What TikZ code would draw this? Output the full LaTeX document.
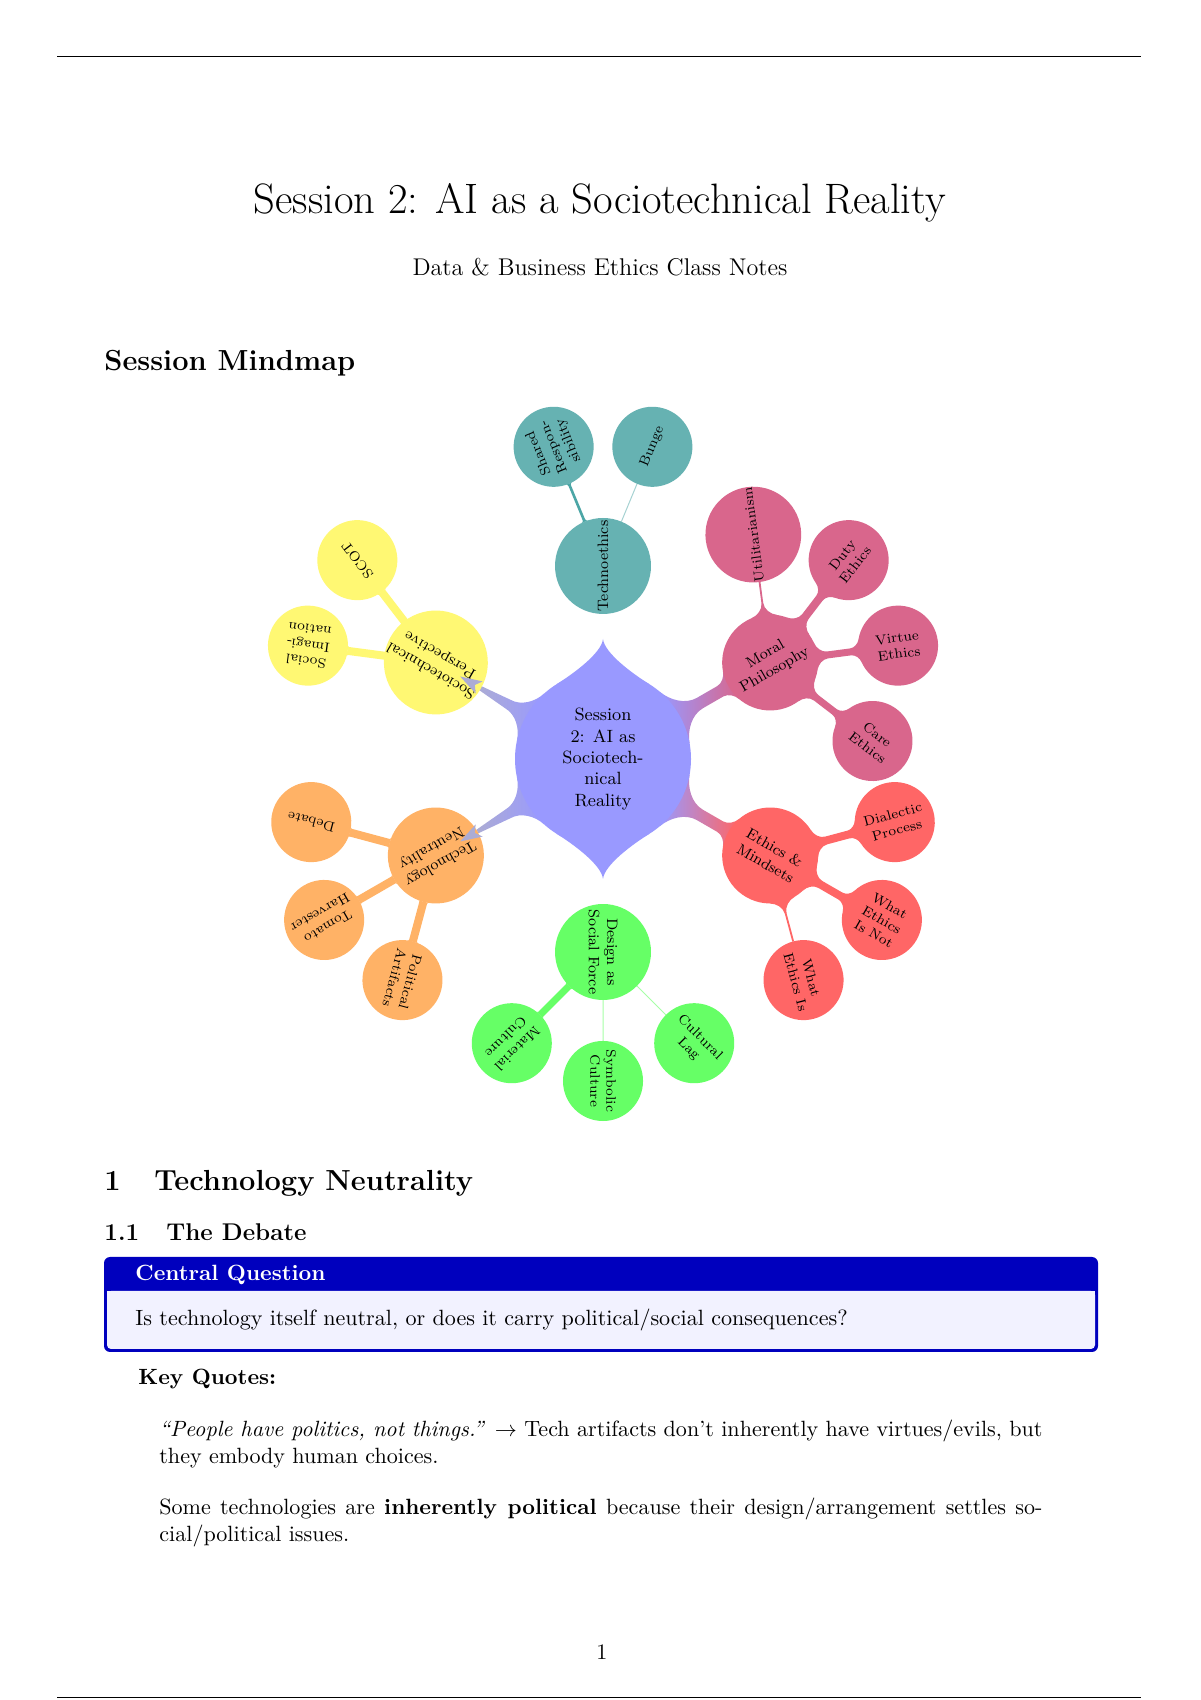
\documentclass[tikz,border=0pt]{standalone}
\pgfdeclarelayer{bg}
\pgfsetlayers{bg,main}
\definecolor{framecol}{RGB}{0,0,190}
\definecolor{boxback}{RGB}{242,242,255}
\definecolor{wedgecol}{RGB}{172,172,212}
\newcommand\ntext{\fontsize{10.95}{13.6}\selectfont}
\def\cbscale{1}
% connection bar between two circles: node, angle, distance, rA, rB, half width, flareA, flareB, style
\newcommand{\cbar}[9]{%
  \begin{scope}[shift={(#1)},rotate=#2]
    \pgfmathsetmacro\wb{\cbscale*#6}
    \pgfmathsetmacro\phA{asin(min(0.95,(#6+#7)/#4))}
    \pgfmathsetmacro\phB{asin(min(0.95,(\wb+#8)/#5))}
    \pgfmathsetmacro\xa{#4*cos(\phA)}
    \pgfmathsetmacro\ya{#4*sin(\phA)}
    \pgfmathsetmacro\xb{#3-#5*cos(\phB)}
    \pgfmathsetmacro\yb{#5*sin(\phB)}
    \pgfmathsetmacro\qa{sqrt(#4*#4-#6*#6)+#7}
    \pgfmathsetmacro\qb{#3-sqrt(#5*#5-\wb*\wb)-#8}
    \pgfmathsetmacro\cax{\xa+0.55*#7*sin(\phA)}
    \pgfmathsetmacro\cay{\ya-0.55*#7*cos(\phA)}
    \pgfmathsetmacro\cbx{\xb-0.55*#8*sin(\phB)}
    \pgfmathsetmacro\cby{\yb-0.55*#8*cos(\phB)}
    \pgfmathsetmacro\qac{\qa-0.55*#7}
    \pgfmathsetmacro\qbc{\qb+0.55*#8}
    \path[#9] (\xa,\ya) .. controls (\cax,\cay) and (\qac,#6) .. (\qa,#6)
      -- (\qb,\wb) .. controls (\qbc,\wb) and (\cbx,\cby) .. (\xb,\yb)
      -- (\xb,-\yb) .. controls (\cbx,-\cby) and (\qbc,-\wb) .. (\qb,-\wb)
      -- (\qa,-#6) .. controls (\qac,-#6) and (\cax,-\cay) .. (\xa,-\ya) -- cycle;
  \end{scope}}
% spike: node, angle, r, length, phi, style
\newcommand{\spike}[6]{%
  \begin{scope}[shift={(#1)},rotate=#2]
    \pgfmathsetmacro\sx{#3*cos(#5)}
    \pgfmathsetmacro\sy{#3*sin(#5)}
    \pgfmathsetmacro\scx{\sx+0.6*#4*sin(#5)}
    \pgfmathsetmacro\scy{\sy-0.6*#4*cos(#5)}
    \pgfmathsetmacro\tip{#3+#4}
    \pgfmathsetmacro\tc{#3+0.55*#4}
    \path[#6] (\sx,\sy) .. controls (\scx,\scy) and (\tc,1.5) .. (\tip,0)
      .. controls (\tc,-1.5) and (\scx,-\scy) .. (\sx,-\sy) -- cycle;
  \end{scope}}
\tikzset{
  rootc/.style={circle, fill=blue!40, minimum size=87.3pt, inner sep=0pt, align=center, font=\fontsize{8.8}{10.6}\selectfont},
  lvlone/.style={circle, minimum size=47.6pt, inner sep=0pt, align=center, font=\fontsize{7.5}{9}\selectfont},
  lvltwo/.style={circle, minimum size=39.7pt, inner sep=0pt, align=center, font=\fontsize{6.8}{8}\selectfont},
  txt/.style={inner sep=0pt, anchor=base west},
}
\begin{document}
\begin{tikzpicture}[x=0.496pt,y=0.496pt]
\useasboundingbox (0,0) rectangle (1200,1700);
% header and footer rules
\draw[line width=0.5pt] (57,1643) -- (1141,1643);
\draw[line width=0.5pt] (57,2.5) -- (1141,2.5);
% title block
\node[inner sep=0pt, anchor=base] (title) at (600,1486) {\fontsize{21.1}{25}\selectfont Session 2: AI as a Sociotechnical Reality};
\node[inner sep=0pt, anchor=base] (subtitle) at (600,1424) {\fontsize{12}{14.5}\selectfont Data \& Business Ethics Class Notes};
\node[txt] (mmhead) at (104,1329) {\fontsize{14.4}{17}\selectfont\bfseries Session Mindmap};

% ---------- mindmap nodes ----------
\node[rootc] (root) at (603,941) {Session\\2: AI as\\Sociotech-\\nical\\Reality};
\node[lvlone, fill=teal!60, rotate=90] (techno) at ([shift={(90:193)}]root) {Technoethics};
\node[lvlone, fill=purple!60, rotate=30] (moral) at ([shift={(30:193)}]root) {Moral\\Philosophy};
\node[lvlone, fill=red!60, rotate=-30] (ethics) at ([shift={(-30:193)}]root) {Ethics \&\\Mindsets};
\node[lvlone, fill=green!60, rotate=-90] (design) at ([shift={(-90:193)}]root) {Design as\\Social Force};
\node[lvlone, fill=orange!60, rotate=210] (neutral) at ([shift={(210:193)}]root) {Technology\\Neutrality};
\node[lvlone, fill=yellow!55, rotate=150] (socio) at ([shift={(150:193)}]root) {Sociotechnical\\Perspective};

\node[lvltwo, fill=teal!60, rotate=112.5] (shared) at ([shift={(112.5:129)}]techno) {Shared\\Respon-\\sibility};
\node[lvltwo, fill=teal!60, rotate=67.5] (bunge) at ([shift={(67.5:129)}]techno) {Bunge};
\node[lvltwo, fill=purple!60, rotate=97.5] (util) at ([shift={(97.5:129)}]moral) {Utilitarianism};
\node[lvltwo, fill=purple!60, rotate=52.5] (duty) at ([shift={(52.5:129)}]moral) {Duty\\Ethics};
\node[lvltwo, fill=purple!60, rotate=7.5] (virtue) at ([shift={(7.5:129)}]moral) {Virtue\\Ethics};
\node[lvltwo, fill=purple!60, rotate=-37.5] (care) at ([shift={(-37.5:129)}]moral) {Care\\Ethics};
\node[lvltwo, fill=red!60, rotate=15] (dialectic) at ([shift={(15:129)}]ethics) {Dialectic\\Process};
\node[lvltwo, fill=red!60, rotate=-30] (whatnot) at ([shift={(-30:129)}]ethics) {What\\Ethics\\Is Not};
\node[lvltwo, fill=red!60, rotate=-75] (whatis) at ([shift={(-75:129)}]ethics) {What\\Ethics Is};
\node[lvltwo, fill=green!60, rotate=225] (material) at ([shift={(225:129)}]design) {Material\\Culture};
\node[lvltwo, fill=green!60, rotate=270] (symbolic) at ([shift={(270:129)}]design) {Symbolic\\Culture};
\node[lvltwo, fill=green!60, rotate=315] (cultural) at ([shift={(315:129)}]design) {Cultural\\Lag};
\node[lvltwo, fill=orange!60, rotate=165] (debate) at ([shift={(165:129)}]neutral) {Debate};
\node[lvltwo, fill=orange!60, rotate=210] (tomato) at ([shift={(210:129)}]neutral) {Tomato\\Harvester};
\node[lvltwo, fill=orange!60, rotate=255] (political) at ([shift={(255:129)}]neutral) {Political\\Artifacts};
\node[lvltwo, fill=yellow!55, rotate=127.5] (scot) at ([shift={(127.5:129)}]socio) {SCOT};
\node[lvltwo, fill=yellow!55, rotate=172.5] (socimag) at ([shift={(172.5:129)}]socio) {Social\\Imagi-\\nation};

% ---------- connections (behind) ----------
\begin{pgfonlayer}{bg}
\fill[white] (0,0) rectangle (1200,1700);
\spike{root}{90}{88}{32}{32}{fill=blue!40}
\spike{root}{-90}{88}{32}{32}{fill=blue!40}
\cbar{root}{30}{193}{88}{48}{6}{24}{10}{left color=blue!40, right color=purple!60}
\cbar{root}{-30}{193}{88}{48}{6}{24}{10}{left color=blue!40, right color=red!60}
\def\cbscale{0.4}
\cbar{root}{150}{193}{88}{48}{5}{22}{0}{left color=wedgecol, right color=blue!40}
\cbar{root}{210}{193}{88}{48}{5}{22}{0}{left color=wedgecol, right color=blue!40}
\def\cbscale{1}
\cbar{techno}{112.5}{129}{48}{40}{1.3}{2}{2}{fill=teal!70}
\cbar{techno}{67.5}{129}{48}{40}{0.5}{0}{0}{fill=teal!35}
\cbar{moral}{97.5}{129}{48}{40}{0.9}{12}{0}{fill=purple!60}
\cbar{moral}{52.5}{129}{48}{40}{4}{10}{8}{fill=purple!60}
\cbar{moral}{7.5}{129}{48}{40}{3.5}{10}{8}{fill=purple!60}
\cbar{moral}{-37.5}{129}{48}{40}{3.5}{10}{8}{fill=purple!60}
\cbar{ethics}{15}{129}{48}{40}{4}{10}{8}{fill=red!60}
\cbar{ethics}{-30}{129}{48}{40}{4}{10}{8}{fill=red!60}
\cbar{ethics}{-75}{129}{48}{40}{0.9}{12}{0}{fill=red!60}
\cbar{design}{225}{129}{48}{40}{3.5}{1}{1}{fill=green!60}
\cbar{design}{270}{129}{48}{40}{0.5}{0}{0}{fill=green!35}
\cbar{design}{315}{129}{48}{40}{0.5}{0}{0}{fill=green!35}
\cbar{neutral}{165}{129}{48}{40}{4}{1}{1}{fill=orange!60}
\cbar{neutral}{210}{129}{48}{40}{4}{1}{1}{fill=orange!60}
\cbar{neutral}{255}{129}{48}{40}{4}{1}{1}{fill=orange!60}
\cbar{socio}{127.5}{129}{48}{40}{4}{1}{1}{fill=yellow!55}
\cbar{socio}{172.5}{129}{48}{40}{4}{1}{1}{fill=yellow!55}
\end{pgfonlayer}
% wedge heads entering the two left nodes
\begin{scope}[shift={(root)},rotate=150]
  \fill[wedgecol] (143,7) -- (165,0) -- (143,-7) -- (148,0) -- cycle;
\end{scope}
\begin{scope}[shift={(root)},rotate=210]
  \fill[wedgecol] (143,7) -- (165,0) -- (143,-7) -- (148,0) -- cycle;
\end{scope}

% ---------- section text ----------
\node[txt] (secnum) at (104,509) {\fontsize{14.4}{17}\selectfont\bfseries 1};
\node[txt] (sectitle) at (154,509) {\fontsize{14.4}{17}\selectfont\bfseries Technology Neutrality};
\node[txt] (subnum) at (104,459) {\fontsize{12}{14.5}\selectfont\bfseries 1.1};
\node[txt] (subtitle2) at (166,459) {\fontsize{12}{14.5}\selectfont\bfseries The Debate};

% box
\fill[framecol, rounded corners=3pt] (104,348) rectangle (1098,443);
\fill[boxback, rounded corners=2pt] (107,351) rectangle (1095,409);
\fill[boxback] (107,380) rectangle (1095,409);
\node[txt, text=white] (boxtitle) at (135,419) {\ntext\bfseries Central Question};
\node[txt] (boxbody) at (135,374) {\ntext Is technology itself neutral, or does it carry political/social consequences?};

\node[txt] (keyq) at (138,315) {\ntext\bfseries Key Quotes:};
\node[txt] (q1a) at (159,263) {\ntext\hbox to 438pt{\textit{``People have politics, not things.''} $\rightarrow$ Tech artifacts don't inherently have virtues/evils, but}};
\node[txt] (q1b) at (159,236) {\ntext they embody human choices.};
\node[txt] (q2a) at (159,185) {\ntext\hbox to 438pt{Some technologies are \textbf{inherently political} because their design/arrangement settles so-}};
\node[txt] (q2b) at (159,158) {\ntext cial/political issues.};

\node[inner sep=0pt, anchor=base] (pagenum) at (602,40) {\ntext 1};
\end{tikzpicture}
\end{document}
